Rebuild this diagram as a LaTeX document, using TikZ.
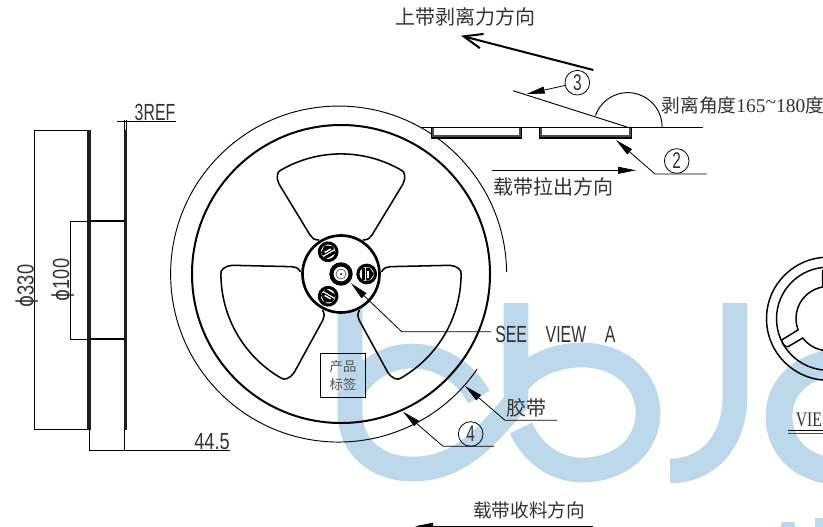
\documentclass[tikz,border=0pt]{standalone}
\usepackage{fontspec}
\usetikzlibrary{arrows.meta}
\setmainfont{Liberation Serif}
\newfontfamily\cjk{Noto Sans CJK SC}
\newfontfamily\cad[FakeStretch=0.68]{Liberation Sans}
\newfontfamily\cadw[FakeStretch=0.78]{Liberation Sans}
\newfontfamily\phifont[FakeStretch=0.78]{DejaVu Sans}
\definecolor{wm}{HTML}{BDD7EB}
\definecolor{ink}{HTML}{333333}
\tikzset{
  wmark/.style={draw=wm,line width=18.5pt,line cap=butt},
  thick line/.style={line width=1.5pt,black},
  mid line/.style={line width=1.1pt,black},
  thin line/.style={line width=0.6pt,black},
  fillarrow/.style={thin line,-{Triangle[length=13.5pt,width=5.2pt]}},
  cjklabel/.style={text=ink,font=\cjk\fontsize{15}{15}\selectfont,inner sep=0pt},
  cadlabel/.style={text=ink,font=\cad\fontsize{17.5}{17.5}\selectfont,inner sep=0pt},
  cadwide/.style={text=ink,font=\cadw\fontsize{17.5}{17.5}\selectfont,inner sep=0pt},
  numcircle/.style={circle,draw=black,line width=0.6pt,minimum size=18.5pt,inner sep=0pt,text=ink,font=\cad\fontsize{17}{17}\selectfont},
}
\begin{document}
\begin{tikzpicture}[x=0.75pt,y=0.75pt]
\path[use as bounding box,clip] (0,-527) rectangle (823,0);
\fill[white] (0,-527) rectangle (823,0);

% watermark
\draw[wmark] (350,-303) -- (350,-412) .. controls (350,-448) and (378,-469) .. (412,-469) .. controls (455,-469) and (480,-445) .. (516,-402) -- (516,-303);
\draw[wmark] (350,-395) .. controls (362,-372) and (385,-356) .. (412,-356) .. controls (440,-356) and (465,-372) .. (479,-397);
\draw[wmark] (516,-385) .. controls (530,-366) and (555,-355) .. (582,-355) .. controls (620,-355) and (648,-380) .. (648,-413) .. controls (648,-446) and (620,-470) .. (582,-470) .. controls (555,-470) and (532,-453) .. (521,-428);
\draw[wmark] (735,-303) -- (735,-395) .. controls (735,-445) and (705,-471) .. (670,-471);
\draw[wmark,line width=20pt] (845,-362) .. controls (805,-362) and (779,-385) .. (779,-416) .. controls (779,-450) and (805,-472) .. (845,-472);
\fill[wm] (781,-527) rectangle (795,-522);
\fill[wm] (815,-527) rectangle (823,-518);

% side view
\foreach \xa/\xb in {87.2/90.5,123.6/127.4}{
  \fill[black!88] (\xa,-130) rectangle (\xb,-429.5);
}
\coordinate (hubTL) at (90,-221);
\coordinate (hubTR) at (124,-221);
\coordinate (hubBL) at (90,-339);
\coordinate (hubBR) at (124,-339);
\draw[mid line] (hubTL) -- (hubTR);
\draw[mid line] (hubBL) -- (hubBR);
\coordinate (d1a) at (87,-130.5);
\coordinate (d1b) at (34.5,-130.5);
\coordinate (d1c) at (34.5,-429);
\coordinate (d1d) at (87,-429);
\draw[thin line] (d1a) -- (d1b) -- (d1c) -- (d1d);
\coordinate (d2a) at (88,-221);
\coordinate (d2b) at (70,-221);
\coordinate (d2c) at (70,-339);
\coordinate (d2d) at (88,-339);
\draw[thin line] (d2a) -- (d2b) -- (d2c) -- (d2d);
\node[cadwide,rotate=90,anchor=base] (p330) at (33.5,-286) {{\phifont ϕ}330};
\node[cadwide,rotate=90,anchor=base] (p100) at (69,-280) {{\phifont ϕ}100};
\coordinate (e1) at (89.5,-429);
\coordinate (e2) at (89.5,-450);
\coordinate (e3) at (124.5,-429);
\coordinate (e4) at (124.5,-450);
\coordinate (e5) at (230,-450);
\draw[thin line] (e1) -- (e2) -- (e5);
\draw[thin line] (e3) -- (e4);
\node[cadwide,anchor=base] (d445) at (212,-449) {44.5};
\coordinate (r1) at (116.5,-121);
\coordinate (r2) at (176,-121);
\draw[thin line] (r1) -- (r2);
\draw[thin line] (124.5,-120) -- (124.5,-130);
\draw[thin line] (126.5,-120) -- (126.5,-130);
\node[cadlabel,anchor=base] (ref3) at (155,-120.5) {3REF};

% reel
\draw[line width=0.7pt,black] (506.6,-272) arc[start angle=0.7,end angle=325.5,radius=168];
\draw[line width=1.5pt,black] (341,-274) circle[radius=149];
\foreach \a in {0,120,240}{
  \begin{scope}[shift={(341,-274)},rotate=\a]
    \draw[line width=1.15pt,black] (-22,34) .. controls (-27,34) and (-29,36) .. (-31,39) -- (-62,90) .. controls (-65,96) and (-64,103) .. (-60,104) arc[start angle=120,end angle=60,radius=120] .. controls (64,103) and (65,96) .. (62,90) -- (31,39) .. controls (29,36) and (27,34) .. (22,34);
  \end{scope}
}
\draw[line width=2pt,black,fill=white] (341,-274) circle[radius=38.5];
\foreach \a in {0,120,240}{
  \begin{scope}[shift={(341,-274)},rotate=\a]
    \draw[line width=2.3pt,black,fill=white] (25.7,0) circle[radius=8.8];
    \fill[black] (20.5,-6) rectangle (23.5,6);
    \fill[black] (25,-6.5) -- (28.5,-6.5) -- (33,0) -- (28.5,6.5) -- (25,6.5) -- cycle;
    \fill[white] (26,-3.5) rectangle (27.5,3.5);
  \end{scope}
}
\draw[line width=3.1pt,black,fill=white] (341,-274) circle[radius=9.6];
\draw[line width=0.5pt,black!70] (341,-274) circle[radius=5];
\fill[black] (341,-274) circle[radius=1];
\node[draw=black,line width=0.6pt,minimum width=33.5pt,minimum height=33.5pt,inner sep=0pt,align=center,text=ink!85,font=\cjk\fontsize{10}{14}\selectfont] (tag) at (343,-375.5) {产品\\标签};

% SEE VIEW A
\coordinate (sa) at (351,-283.3);
\coordinate (sb) at (401.7,-331.7);
\coordinate (sc) at (491,-331.7);
\draw[fillarrow] (sc) -- (sb) -- (sa);
\node[cadlabel,anchor=base west] (see) at (495,-342) {SEE\hspace{14pt}VIEW\hspace{14pt}A};

% tape label, item 4
\coordinate (ta) at (465,-386);
\coordinate (tb) at (505,-420.3);
\coordinate (tc) at (557,-420.3);
\draw[fillarrow] (tc) -- (tb) -- (ta);
\node[cjklabel] (tape) at (526.5,-408) {胶带};
\coordinate (fa) at (403,-411.7);
\coordinate (fb) at (443,-446.3);
\coordinate (fc) at (494,-446.3);
\draw[fillarrow] (fc) -- (fb) -- (fa);
\node[numcircle] (n4) at (470.7,-434) {4};
\node[cjklabel,font=\cjk\fontsize{14}{14}\selectfont] (wind) at (529,-510.5) {载带收料方向};
\coordinate (wa) at (593,-526.3);
\coordinate (wb) at (415,-526.3);
\draw[fillarrow] (wa) -- (wb);

% carrier tape
\coordinate (sl) at (420,-127.7);
\coordinate (sp) at (629,-127.7);
\coordinate (sr) at (703,-127.7);
\draw[line width=0.7pt,black] (sp) -- (sr);
\foreach \xa/\xb in {433/520,541/630}{
  \draw[line width=1.7pt,black!70,fill=white] (\xa,-127.7) -- (\xa,-136.5) -- (\xb,-136.5) -- (\xb,-127.7);
  \draw[line width=1pt,black] (\xa-1.5,-127.7) -- (\xa-1.5,-138) -- (\xb+1.5,-138) -- (\xb+1.5,-127.7);
}
\draw[line width=1.2pt,black] (sl) -- (sp);
% peel line
\coordinate (pa) at (513,-90.7);
\coordinate (pb) at (627,-127);
\draw[line width=0.7pt,black] (pa) -- (pb);
\draw[line width=0.7pt,black] (595.5,-115.5) arc[start angle=160.5,end angle=0,radius=34.3];
\node[anchor=west,inner sep=0pt,text=ink,font=\fontsize{14.6}{14.6}\selectfont] (peel) at (661.5,-105.5) {{\cjk\fontsize{14}{14}\selectfont 剥离角度}165\raisebox{.45ex}{\textasciitilde}180{\cjk\fontsize{14}{14}\selectfont 度}};
\coordinate (fa1) at (593.3,-70);
\coordinate (fa2) at (461,-35.7);
\draw[line width=1.5pt,black,-{Straight Barb[length=14pt,width=11pt]}] (fa1) -- (fa2);
\node[cjklabel] (force) at (465,-17) {上带剥离力方向};
\node[numcircle] (n3) at (577.3,-82.7) {3};
\coordinate (c3) at (526.7,-94);
\draw[fillarrow] (n3) -- (c3);
\node[numcircle] (n2) at (676.7,-161) {2};
\coordinate (c2a) at (616,-140);
\coordinate (c2b) at (655,-174);
\coordinate (c2c) at (706.7,-174);
\draw[fillarrow] (c2c) -- (c2b) -- (c2a);
\coordinate (pa1) at (491.7,-170.3);
\coordinate (pa2) at (636,-170.3);
\draw[fillarrow] (pa1) -- (pa2);
\node[cjklabel] (pull) at (553,-187) {载带拉出方向};

% view A (cut by page edge)
\draw[line width=1.1pt,black] (828,-318.7) circle[radius=61.5];
\draw[line width=1.1pt,black] (828,-318.7) circle[radius=51.5];
\draw[line width=1.1pt,black] (822.7,-270) -- (822.7,-287) arc[start angle=99.5,end angle=200.8,radius=32] -- (781.7,-340) .. controls (782,-344) and (785,-347) .. (788,-346.7) -- (802.7,-338) arc[start angle=217,end angle=290,radius=32];
\node[anchor=base west,inner sep=0pt,text=ink,font=\fontsize{15.5}{15.5}\selectfont] (viewA) at (795.5,-426.7) {\scalebox{0.76}[1]{VIE}};
\coordinate (u1) at (788,-430);
\coordinate (u2) at (823,-430);
\coordinate (u3) at (788,-433);
\coordinate (u4) at (823,-433);
\draw[thin line] (u1) -- (u2);
\draw[thin line,black!70] (u3) -- (u4);
\end{tikzpicture}
\end{document}
